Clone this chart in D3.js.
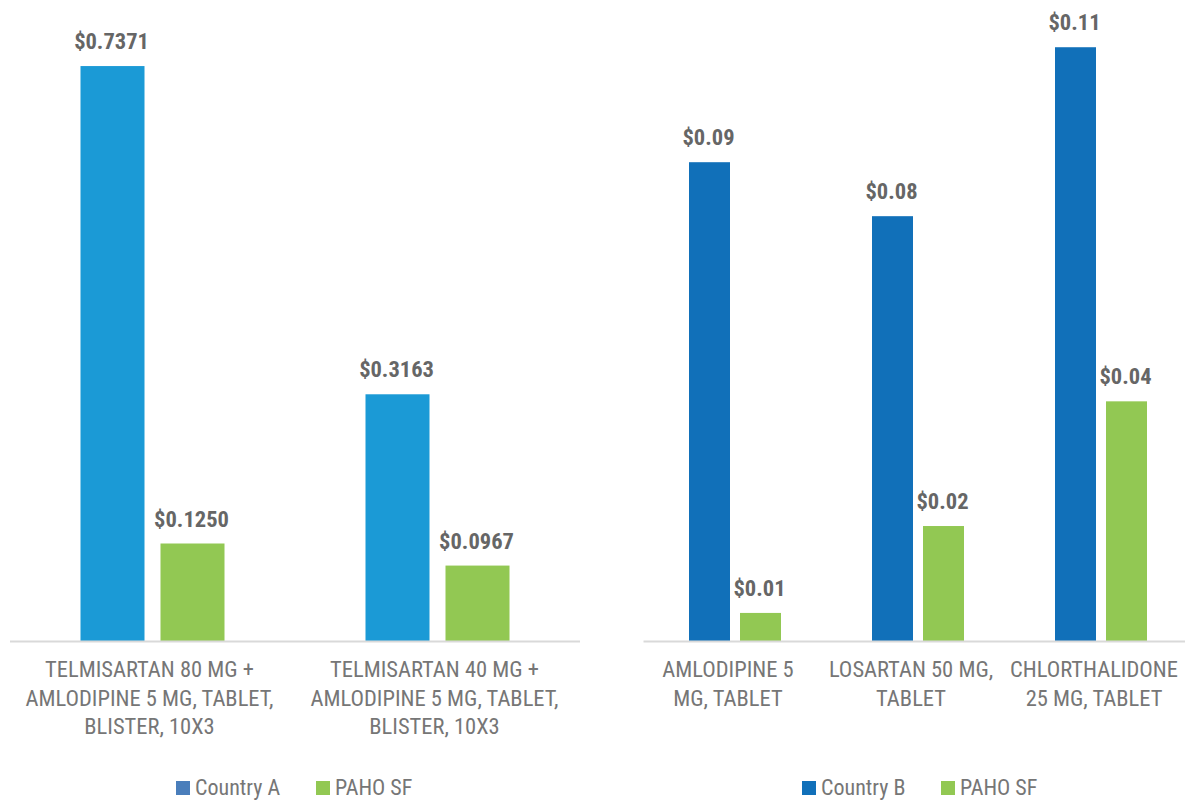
<!DOCTYPE html>
<html>
<head>
<meta charset="utf-8">
<script src="https://cdn.jsdelivr.net/npm/d3@7"></script>
<style>
  body { margin: 0; background: #fff; }
  svg { display: block; }
</style>
</head>
<body>
<div id="chart"></div>
<script>
// left panel data
const categoriesA = ["TELMISARTAN 80 MG +\nAMLODIPINE 5 MG, TABLET,\nBLISTER, 10X3",
                     "TELMISARTAN 40 MG +\nAMLODIPINE 5 MG, TABLET,\nBLISTER, 10X3"];
const countryAValues = [0.7371, 0.3163];
const pahoAValues = [0.1250, 0.0967];

// right panel data
const categoriesB = ["AMLODIPINE 5\nMG, TABLET", "LOSARTAN 50 MG,\nTABLET", "CHLORTHALIDONE\n25 MG, TABLET"];
const countryBValues = [0.0887, 0.0787, 0.110];
const pahoBValues = [0.0052, 0.0213, 0.0444];

const seriesNamesA = ["Country A", "PAHO SF"];
const seriesNamesB = ["Country B", "PAHO SF"];

const width = 1185, height = 801;
const font = "'Liberation Sans Narrow', 'Roboto Condensed', 'DejaVu Sans Condensed', Roboto, sans-serif";

let svg = d3.select("#chart").append("svg")
  .attr("width", width)
  .attr("height", height);

function drawPanel(opts) {
  let g = svg.append("g");
  let baseline = 641, top = 17;

  let x0 = d3.scaleBand().domain(d3.range(opts.categories.length))
    .range([opts.x0, opts.x1]).paddingInner(0).paddingOuter(0);
  let x1 = d3.scaleBand().domain([0, 1])
    .range([0, opts.barW * 2 + opts.gap]).paddingInner(opts.gap / (opts.barW + opts.gap));
  let y = d3.scaleLinear().domain([0, opts.yMax]).range([baseline, top]);

  let rows = opts.categories.map((c, i) => ({
    cat: i, vals: [opts.series1[i], opts.series2[i]]
  }));

  let groups = g.selectAll("g.grp").data(rows).enter().append("g")
    .attr("class", "grp")
    .attr("transform", d => `translate(${x0(d.cat) + (x0.bandwidth() - x1.range()[1]) / 2},0)`);

  groups.selectAll("rect").data(d => d.vals.map((v, k) => ({k: k, v: v})))
    .enter().append("rect")
      .attr("x", d => x1(d.k))
      .attr("y", d => y(d.v))
      .attr("width", x1.bandwidth())
      .attr("height", d => baseline - y(d.v))
      .attr("fill", d => opts.colors[d.k]);

  groups.selectAll("text.val").data(d => d.vals.map((v, k) => ({k: k, v: v})))
    .enter().append("text")
      .attr("class", "val")
      .attr("x", d => x1(d.k) + x1.bandwidth() / 2 - 1)
      .attr("y", d => y(d.v) - 17)
      .attr("text-anchor", "middle")
      .attr("font-family", font)
      .attr("font-weight", "700")
      .attr("font-size", "22.5px")
      .attr("fill", "#666666")
      .text(d => opts.fmt(d.v));

  // baseline
  g.append("line")
    .attr("x1", opts.x0).attr("x2", opts.x1)
    .attr("y1", baseline + 0.5).attr("y2", baseline + 0.5)
    .attr("stroke", "#d9d9d9").attr("stroke-width", 2);

  // category labels
  let labels = g.selectAll("text.cat").data(opts.categories).enter().append("text")
    .attr("class", "cat")
    .attr("text-anchor", "middle")
    .attr("font-family", font)
    .attr("font-size", "22.5px")
    .attr("fill", "#767676");
  labels.each(function(d, i) {
    let t = d3.select(this);
    d.split("\n").forEach(function(line, j) {
      t.append("tspan")
        .attr("x", x0(i) + x0.bandwidth() / 2 + opts.labelShift)
        .attr("y", 677 + j * 28.5)
        .text(line);
    });
  });

  // legend
  let leg = g.append("g");
  opts.legend.forEach(function(item) {
    leg.append("rect")
      .attr("x", item.x).attr("y", 781)
      .attr("width", 14).attr("height", 14)
      .attr("fill", item.color);
    leg.append("text")
      .attr("x", item.x + 19).attr("y", 795)
      .attr("font-family", font)
      .attr("font-size", "22px")
      .attr("fill", "#767676")
      .text(item.name);
  });
}

drawPanel({
  categories: categoriesA, series1: countryAValues, series2: pahoAValues,
  x0: 10, x1: 580, barW: 64, gap: 16, yMax: 0.8, labelShift: -3,
  colors: ["#1b9ad6", "#92c853"],
  fmt: d3.format("$.4f"),
  legend: [{name: seriesNamesA[0], color: "#4a7ebb", x: 176},
           {name: seriesNamesA[1], color: "#92c853", x: 316}]
});

drawPanel({
  categories: categoriesB, series1: countryBValues, series2: pahoBValues,
  x0: 643.5, x1: 1192.5, barW: 41, gap: 10, yMax: 0.1156, labelShift: -7,
  colors: ["#1170b9", "#92c853"],
  fmt: d3.format("$.2f"),
  legend: [{name: seriesNamesB[0], color: "#1170b9", x: 802},
           {name: seriesNamesB[1], color: "#92c853", x: 941}]
});
</script>
</body>
</html>
